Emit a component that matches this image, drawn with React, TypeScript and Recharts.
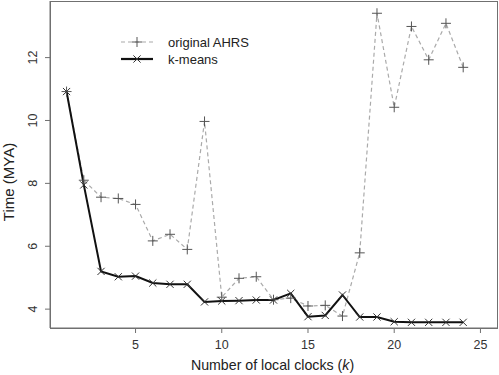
import { LineChart, Line, XAxis, YAxis } from "recharts";

const clocks = [1, 2, 3, 4, 5, 6, 7, 8, 9, 10, 11, 12, 13, 14, 15, 16, 17, 18, 19, 20, 21, 22, 23, 24];
const originalAhrs = [10.92, 8.1, 7.56, 7.52, 7.33, 6.17, 6.38, 5.9, 9.97, 4.38, 4.98, 5.03, 4.3, 4.35, 4.1, 4.12, 3.78, 5.79, 13.41, 10.42, 12.99, 11.93, 13.09, 11.69];
const kMeans = [10.92, 7.95, 5.2, 5.03, 5.05, 4.83, 4.79, 4.79, 4.23, 4.26, 4.27, 4.29, 4.29, 4.5, 3.76, 3.8, 4.45, 3.75, 3.75, 3.6, 3.58, 3.58, 3.58, 3.58];
const xTicks = [5, 10, 15, 20, 25];
const yTicks = [4, 6, 8, 10, 12];

const data = clocks.map((k, i) => ({ k, orig: originalAhrs[i], km: kMeans[i] }));

const FONT = "'Liberation Sans', Arial, sans-serif";
const AXIS = "#707070";

function PlusDot(props: any) {
  const { cx, cy } = props;
  if (cx == null || cy == null) return null;
  return (
    <path
      key={props.key ?? `p${props.index}`}
      d={`M${cx - 5},${cy}H${cx + 5}M${cx},${cy - 5}V${cy + 5}`}
      stroke="#555"
      strokeWidth={1}
      fill="none"
    />
  );
}

function CrossDot(props: any) {
  const { cx, cy } = props;
  if (cx == null || cy == null) return null;
  const r = 3.6;
  return (
    <path
      key={props.key ?? `x${props.index}`}
      d={`M${cx - r},${cy - r}L${cx + r},${cy + r}M${cx - r},${cy + r}L${cx + r},${cy - r}`}
      stroke="#333"
      strokeWidth={1}
      fill="none"
    />
  );
}

function LegendBox() {
  return (
    <svg width={160} height={36} style={{ display: "block" }}>
      <line x1={1} y1={9} x2={33} y2={9} stroke="#aaa" strokeWidth={1.2} strokeDasharray="4 3" />
      <PlusDot cx={17} cy={9} />
      <text x={48} y={13.5} fontFamily={FONT} fontSize={13} fill="#222">original AHRS</text>
      <line x1={1} y1={26} x2={33} y2={26} stroke="#111" strokeWidth={2.2} />
      <CrossDot cx={17} cy={26} />
      <text x={48} y={30.5} fontFamily={FONT} fontSize={13} fill="#222">k-means</text>
    </svg>
  );
}

export default function App() {
  return (
    <div style={{ position: "absolute", left: 0, top: 0, width: 499, height: 375, background: "#fff" }}>
      <LineChart width={499} height={375} data={data} margin={{ top: 1, right: 2, bottom: 0, left: 0 }}>
        <XAxis
          dataKey="k"
          type="number"
          domain={[0.04, 25.96]}
          ticks={xTicks}
          height={47}
          axisLine={{ stroke: AXIS }}
          tickLine={{ stroke: AXIS }}
          tickSize={5}
          allowDataOverflow
          tick={(p: any) => (
            <text key={`xt${p.index}`} x={p.x} y={349} textAnchor="middle" fontFamily={FONT} fontSize={12.5} fill="#333">
              {p.payload.value}
            </text>
          )}
          label={{
            content: () => (
              <text x={272.5} y={370} textAnchor="middle" fontFamily={FONT} fontSize={14.2} fill="#222">
                Number of local clocks (<tspan fontStyle="italic">k</tspan>)
              </text>
            ),
          }}
        />
        <YAxis
          type="number"
          domain={[3.4, 13.8]}
          ticks={yTicks}
          width={50}
          axisLine={{ stroke: AXIS }}
          tickLine={{ stroke: AXIS }}
          tickSize={5}
          allowDataOverflow
          tick={(p: any) => (
            <text
              key={`yt${p.index}`}
              x={37}
              y={p.y}
              textAnchor="middle"
              transform={`rotate(-90, 37, ${p.y})`}
              fontFamily={FONT}
              fontSize={12.5}
              fill="#333"
            >
              {p.payload.value}
            </text>
          )}
          label={{
            content: () => (
              <text
                x={14}
                y={182}
                textAnchor="middle"
                transform="rotate(-90, 14, 182)"
                fontFamily={FONT}
                fontSize={15}
                fill="#222"
              >
                Time (MYA)
              </text>
            ),
          }}
        />
        <Line
          dataKey="orig"
          name="original AHRS"
          stroke="#aaa"
          strokeWidth={1.2}
          strokeDasharray="4 3"
          dot={PlusDot}
          activeDot={false}
          isAnimationActive={false}
        />
        <Line
          dataKey="km"
          name="k-means"
          stroke="#111"
          strokeWidth={2}
          dot={CrossDot}
          activeDot={false}
          isAnimationActive={false}
        />
      </LineChart>
      <div
        style={{
          position: "absolute",
          left: 50,
          top: 1,
          width: 446,
          height: 326,
          border: `1px solid ${AXIS}`,
          pointerEvents: "none",
        }}
      />
      <div style={{ position: "absolute", left: 120, top: 33 }}>
        <LegendBox />
      </div>
    </div>
  );
}
